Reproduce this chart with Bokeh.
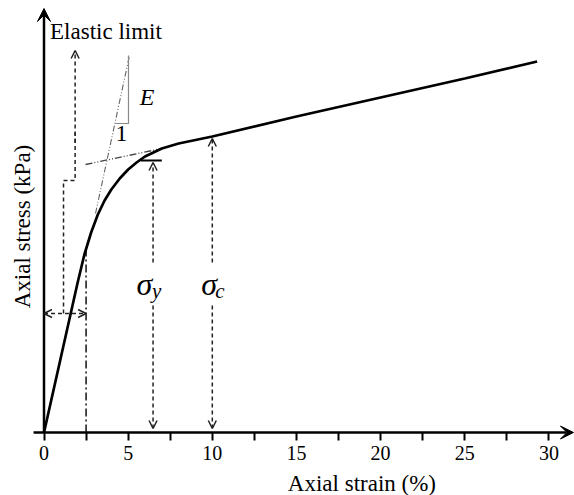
from bokeh.plotting import figure
from bokeh.models import Range1d, FixedTicker, Arrow, VeeHead, OpenHead
from bokeh.core.properties import value
from bokeh.embed import file_html
from bokeh.resources import INLINE

# ---- data (strain in %, stress in arbitrary kPa units) ----
strain = [0, 1.0, 2.0, 2.4, 2.8, 3.2, 3.6, 4.0, 4.5, 5.0, 5.5, 6.0, 6.5, 7.0, 8.0, 10, 15, 20, 25, 29.3]
stress = [0, 75, 150, 178, 200, 218, 232, 243, 254, 263, 270, 276, 280, 284, 289, 296, 316, 335, 354, 371]

x_ticks = [0, 5, 10, 15, 20, 25, 30]
x_minor = [2.5, 7.5, 12.5, 17.5, 22.5, 27.5]

# elastic modulus tangent line and slope triangle
tangent_strain = [3.06, 5.08]
tangent_stress = [219, 377]
tri_strain = [4.23, 5.02, 5.02]
tri_stress = [309, 309, 377]

# backward extension of the plastic branch
plastic_ext_strain = [2.47, 7.0]
plastic_ext_stress = [268, 284]

# elastic limit marker
elastic_strain = 2.5
elastic_stress = 182
elastic_step_strain = [1.16, 1.16, 1.85, 1.85]
elastic_step_stress = [119, 252, 252, 300]
elastic_arrow_top = 382
elastic_range_stress = 119

# yield and characteristic stresses
sigma_y_strain = 6.48
sigma_y_stress = 270
sigma_y_bar = [5.75, 7.0]
sigma_c_strain = 10.0
sigma_c_stress = 294
label_gap = [170, 127]

X0, XS = 43.5, 16.83
p = figure(width=574, height=495,
           x_range=Range1d(-X0 / XS, (574 - X0) / XS),
           y_range=Range1d(432 - 495, 432),
           min_border=0, toolbar_location=None, output_backend="svg",
           y_axis_location=None)
p.outline_line_color = None
p.grid.visible = False
p.background_fill_color = "white"

ax = p.xaxis[0]
ax.fixed_location = 0
ax.ticker = FixedTicker(ticks=x_ticks, minor_ticks=x_minor)
ax.axis_line_color = None
ax.major_tick_in = 0
ax.major_tick_out = 8
ax.minor_tick_in = 0
ax.minor_tick_out = 8
ax.major_tick_line_width = 2
ax.minor_tick_line_width = 2
ax.major_tick_line_color = "black"
ax.minor_tick_line_color = "black"
ax.major_label_text_font = "Liberation Serif"
ax.major_label_text_font_size = "20px"
ax.major_label_text_color = "black"
ax.major_label_standoff = 5

SERIF = value("Liberation Serif")
DASH = "4 3"
DC = "#222222"

# axes with arrows
p.add_layout(Arrow(x_start=-0.62, y_start=0, x_end=31.46, y_end=0, line_width=2.5, line_color="black",
                   end=VeeHead(size=13, fill_color="black", line_color="black", line_width=1)))
p.add_layout(Arrow(x_start=0, y_start=0, x_end=0, y_end=424, line_width=2.5, line_color="black",
                   end=VeeHead(size=13, fill_color="black", line_color="black", line_width=1)))

# guide lines
p.line(tangent_strain, tangent_stress, line_color="#666666", line_width=1.1, line_dash="6 2 1 2 1 2")
p.line(tri_strain, tri_stress, line_color="#888888", line_width=1.2)
p.line(plastic_ext_strain, plastic_ext_stress, line_color="#444444", line_width=1.3, line_dash="7 2 1 2 1 2")
p.line([elastic_strain, elastic_strain], [0, elastic_stress], line_color="#222222", line_width=1.6,
       line_dash="8 3 2 3")

# elastic limit stepped arrow
p.line(elastic_step_strain, elastic_step_stress, line_color=DC, line_width=1.5, line_dash=DASH)
p.add_layout(Arrow(x_start=elastic_step_strain[-1], y_start=elastic_step_stress[-1] - 10,
                   x_end=elastic_step_strain[-1], y_end=elastic_arrow_top,
                   line_color=DC, line_width=1.5, line_dash=DASH,
                   end=OpenHead(size=8, line_color=DC, line_width=1.5)))
# elastic strain range double arrow
p.add_layout(Arrow(x_start=0, y_start=elastic_range_stress, x_end=elastic_strain, y_end=elastic_range_stress,
                   line_color=DC, line_width=1.5, line_dash=DASH,
                   start=OpenHead(size=8, line_color=DC, line_width=1.5),
                   end=OpenHead(size=8, line_color=DC, line_width=1.5)))

# sigma_y / sigma_c arrows
p.line(sigma_y_bar, [sigma_y_stress + 2, sigma_y_stress + 2], line_color="black", line_width=2)
for sx, sy in [(sigma_y_strain, sigma_y_stress), (sigma_c_strain, sigma_c_stress)]:
    p.add_layout(Arrow(x_start=sx, y_start=label_gap[0], x_end=sx, y_end=sy,
                       line_color=DC, line_width=1.5, line_dash=DASH,
                       end=OpenHead(size=8, line_color=DC, line_width=1.5)))
    p.add_layout(Arrow(x_start=sx, y_start=label_gap[1], x_end=sx, y_end=4,
                       line_color=DC, line_width=1.5, line_dash=DASH,
                       end=OpenHead(size=8, line_color=DC, line_width=1.5)))

# main curve
p.line(strain, stress, line_color="black", line_width=2.7)

# texts
p.text(x=[0.36], y=[401], text=["Elastic limit"], text_font=SERIF, text_font_size=value("23px"),
       text_color="black", text_align="left", text_baseline="middle")
p.text(x=[18.89], y=[-51], text=["Axial strain (%)"], text_font=SERIF, text_font_size=value("23px"),
       text_color="black", text_align="center", text_baseline="middle")
p.text(x=[-1.3], y=[206], text=["Axial stress (kPa)"], text_font=SERIF, text_font_size=value("23px"),
       text_color="black", text_align="center", text_baseline="middle", angle=1.5708)
p.text(x=[6.12], y=[336], text=["E"], text_font=SERIF, text_font_size=value("24px"),
       text_font_style="italic", text_color="black", text_align="center", text_baseline="middle")
p.text(x=[4.6], y=[299], text=["1"], text_font=SERIF, text_font_size=value("24px"),
       text_color="black", text_align="center", text_baseline="middle")
p.text(x=[5.5, 9.35], y=[149, 149], text=["σ", "σ"], text_font=SERIF, text_font_size=value("32px"),
       text_font_style="italic", text_color="black", text_align="left", text_baseline="middle")
p.text(x=[6.42, 10.17], y=[142, 142], text=["y", "c"], text_font=SERIF, text_font_size=value("21px"),
       text_font_style="italic", text_color="black", text_align="left", text_baseline="middle")

open("out.html", "w").write(file_html(p, INLINE))
